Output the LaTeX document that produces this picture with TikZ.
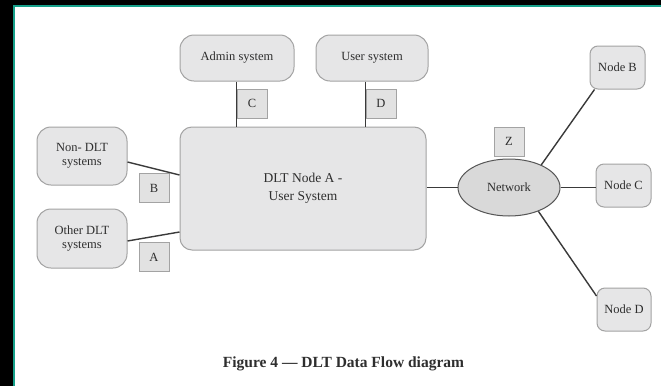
\documentclass[tikz,border=0pt]{standalone}
\usepackage{fontspec}
\setmainfont{Liberation Serif}
\usetikzlibrary{shapes.geometric}
\definecolor{boxfill}{HTML}{E6E6E7}
\definecolor{boxdraw}{HTML}{A3A3A3}
\definecolor{netfill}{HTML}{D9D9D9}
\definecolor{netdraw}{HTML}{555555}
\definecolor{lblfill}{HTML}{E2E2E2}
\definecolor{txt}{HTML}{2E2E2E}
\definecolor{linec}{HTML}{3A3A3A}
\definecolor{teal}{HTML}{16A08A}
\tikzset{
  sysbox/.style={draw=boxdraw, fill=boxfill, line width=1pt, text=txt, align=center,
    font=\fontsize{12.5}{14.5}\selectfont, inner sep=0pt},
  lblbox/.style={draw=boxdraw, fill=lblfill, line width=1pt, text=txt,
    font=\fontsize{12.5}{14.5}\selectfont, minimum width=30pt, minimum height=29pt, inner sep=0pt},
  conn/.style={draw=linec, line width=1.4pt},
}
\begin{document}
\begin{tikzpicture}[x=1pt,y=-1pt]
\useasboundingbox (0,0) rectangle (661,386);
\fill[black] (0,0) rectangle (661,386);
\fill[white] (15,7) rectangle (661,386);
\fill[teal] (13,5) rectangle (661,7);
\fill[teal] (13,5) rectangle (15,386);

\node[sysbox, rounded corners=14pt, minimum width=114pt, minimum height=46pt] (admin) at (237,58) {Admin system};
\node[sysbox, rounded corners=14pt, minimum width=112pt, minimum height=46pt] (user) at (372,58) {User system};
\node[sysbox, rounded corners=12pt, minimum width=246pt, minimum height=123pt,
  font=\fontsize{13.5}{18}\selectfont] (main) at (303,188.5) {DLT Node A -\\User System};
\node[sysbox, rounded corners=14pt, minimum width=90pt, minimum height=58pt] (nondlt) at (82,156) {Non- DLT\\systems};
\node[sysbox, rounded corners=14pt, minimum width=90pt, minimum height=59pt] (other) at (82,238.5) {Other DLT\\systems};
\node[ellipse, draw=netdraw, fill=netfill, line width=1pt, text=txt, font=\fontsize{12.5}{14.5}\selectfont,
  minimum width=102pt, minimum height=57pt, inner sep=0pt] (network) at (509,187.5) {Network};
\node[sysbox, rounded corners=8pt, minimum width=55pt, minimum height=43pt] (nodeB) at (617.5,67.5) {Node B};
\node[sysbox, rounded corners=8pt, minimum width=55pt, minimum height=43pt] (nodeC) at (623.5,185.5) {Node C};
\node[sysbox, rounded corners=8pt, minimum width=54pt, minimum height=43pt] (nodeD) at (624,309.5) {Node D};

\node[lblbox] (clab) at (252,103.5) {C};
\node[lblbox] (dlab) at (381,103.5) {D};
\node[lblbox] (blab) at (154,188) {B};
\node[lblbox] (alab) at (154,257) {A};
\node[lblbox] (zlab) at (509,141.5) {Z};

\draw[conn] (clab.west |- admin.south) -- (clab.west |- main.north);
\draw[conn] (dlab.west |- user.south) -- (dlab.west |- main.north);
\draw[conn] ([yshift=-6pt]nondlt.east) -- ([yshift=13.5pt]main.west);
\draw[conn] ([yshift=-2.5pt]other.east) -- ([yshift=-43.5pt]main.west);
\draw[conn] (network.west -| main.east) -- (network.west);
\draw[conn] (network.35) -- ([xshift=5pt]nodeB.south west);
\draw[conn] (network.east) -- (network.east -| nodeC.west);
\draw[conn] (network.-39) -- ([yshift=13.5pt]nodeD.west);

\node[text=txt, font=\fontsize{15.5}{18}\selectfont\bfseries, inner sep=0pt] (caption) at (343.5,364) {Figure 4 — DLT Data Flow diagram};
\end{tikzpicture}
\end{document}
